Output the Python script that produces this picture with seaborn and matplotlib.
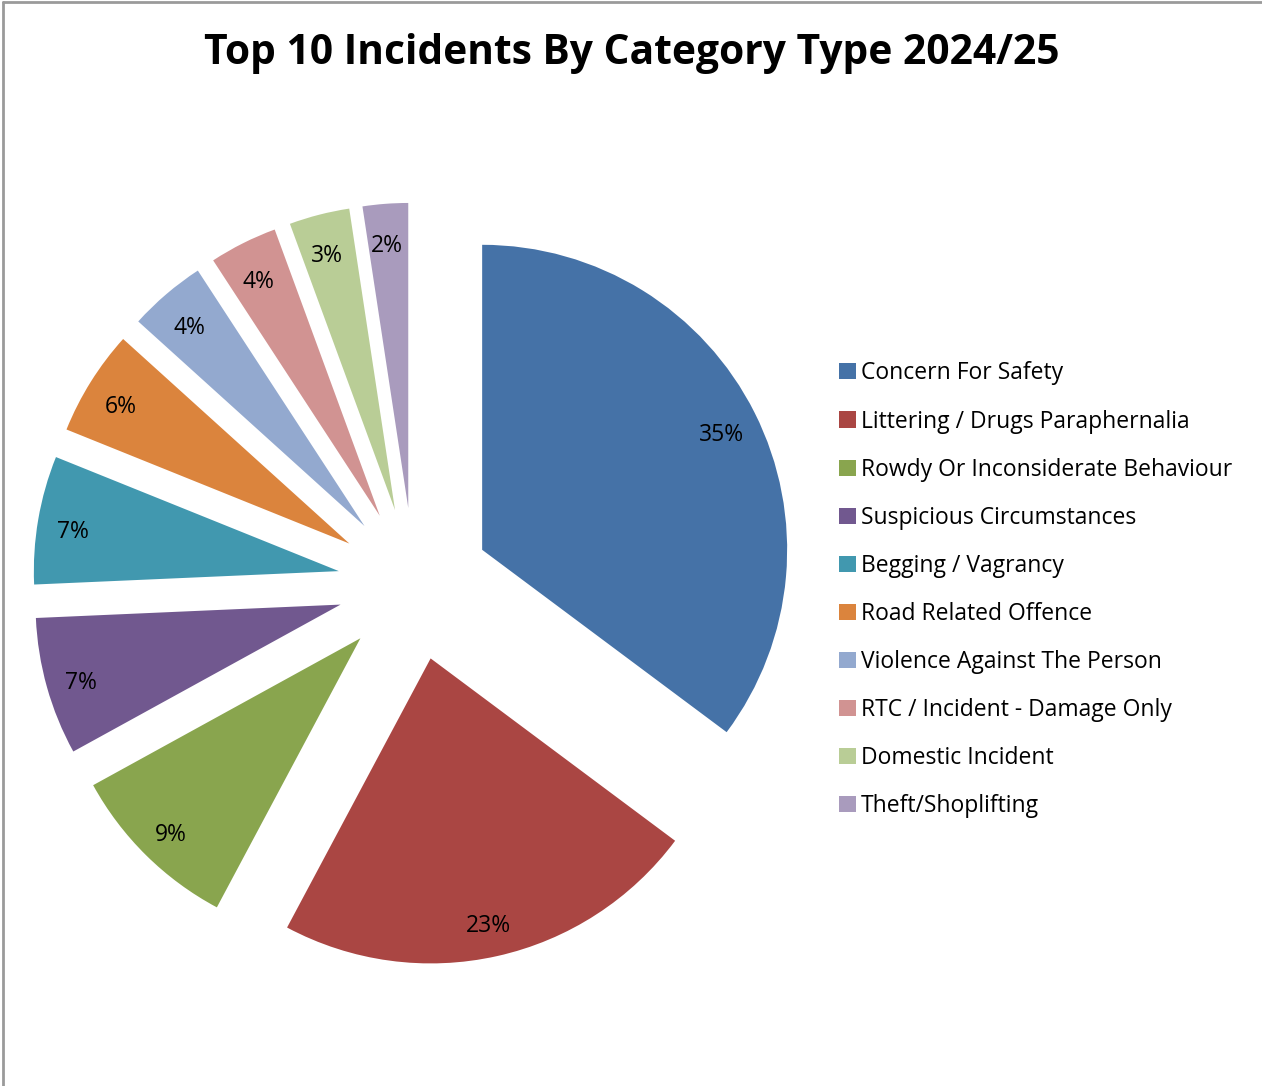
import numpy as np
import matplotlib.pyplot as plt
import matplotlib.transforms as mtransforms
import seaborn as sns
from matplotlib.lines import Line2D

# Chart data (shares of the top 10)
categories = [
    "Concern For Safety",
    "Littering / Drugs Paraphernalia",
    "Rowdy Or Inconsiderate Behaviour",
    "Suspicious Circumstances",
    "Begging / Vagrancy",
    "Road Related Offence",
    "Violence Against The Person",
    "RTC / Incident - Damage Only",
    "Domestic Incident",
    "Theft/Shoplifting",
]
shares = [35.2, 22.6, 9.2, 7.3, 6.8, 5.6, 4.1, 3.6, 3.2, 2.4]
colours = ["#4572A7", "#AA4643", "#89A54E", "#71588F", "#4198AF",
           "#DB843D", "#93A9CF", "#D19392", "#B9CD96", "#A99BBD"]

sns.set_theme(style="white")
plt.rcParams["font.family"] = ["Open Sans", "DejaVu Sans"]
plt.rcParams["text.color"] = "black"
palette = sns.color_palette(colours)

W, H = 1262, 1086
fig = plt.figure(figsize=(W / 100, H / 100), dpi=100)

# pie centre / radius in pixels
cx, cy, r = 414, 584, 305
ax = fig.add_axes([0, 0, 1, 1])
wedges, texts, autotexts = ax.pie(
    shares,
    colors=palette,
    startangle=90,
    counterclock=False,
    explode=[0.25] * len(shares),
    autopct=lambda p: f"{p:.0f}%",
    pctdistance=0.88,
    textprops={"fontsize": 16.5, "color": "black"},
    wedgeprops={"linewidth": 0},
)
ax.set_xlim(-cx / r, (W - cx) / r)
ax.set_ylim(-(H - cy) / r, cy / r)
ax.axis("off")

# nudge the percentage labels down a little, like Excel does
shift = mtransforms.offset_copy(ax.transData, fig=fig, x=-1, y=-6, units="dots")
for t in autotexts:
    t.set_transform(shift)

# Title
fig.text(632 / W, 1 - 54 / H, "Top 10 Incidents By Category Type 2024/25",
         ha="center", va="center", fontsize=29.3, fontweight="bold", color="black")

# Legend
leg = fig.legend(wedges, categories, loc="upper left",
                 bbox_to_anchor=(828 / W, 1 - 350 / H),
                 frameon=False, fontsize=16.5, labelcolor="black",
                 handlelength=0.7, handleheight=0.7, handletextpad=0.25,
                 labelspacing=1.05, borderpad=0)

# Chart border (left and top)
fig.add_artist(Line2D([3 / W, 3 / W], [0, 1 - 2 / H], color="#9a9a9a", lw=2,
                      transform=fig.transFigure))
fig.add_artist(Line2D([3 / W, 1], [1 - 2 / H, 1 - 2 / H], color="#9a9a9a", lw=2,
                      transform=fig.transFigure))

fig.savefig("out.png", dpi=100)
